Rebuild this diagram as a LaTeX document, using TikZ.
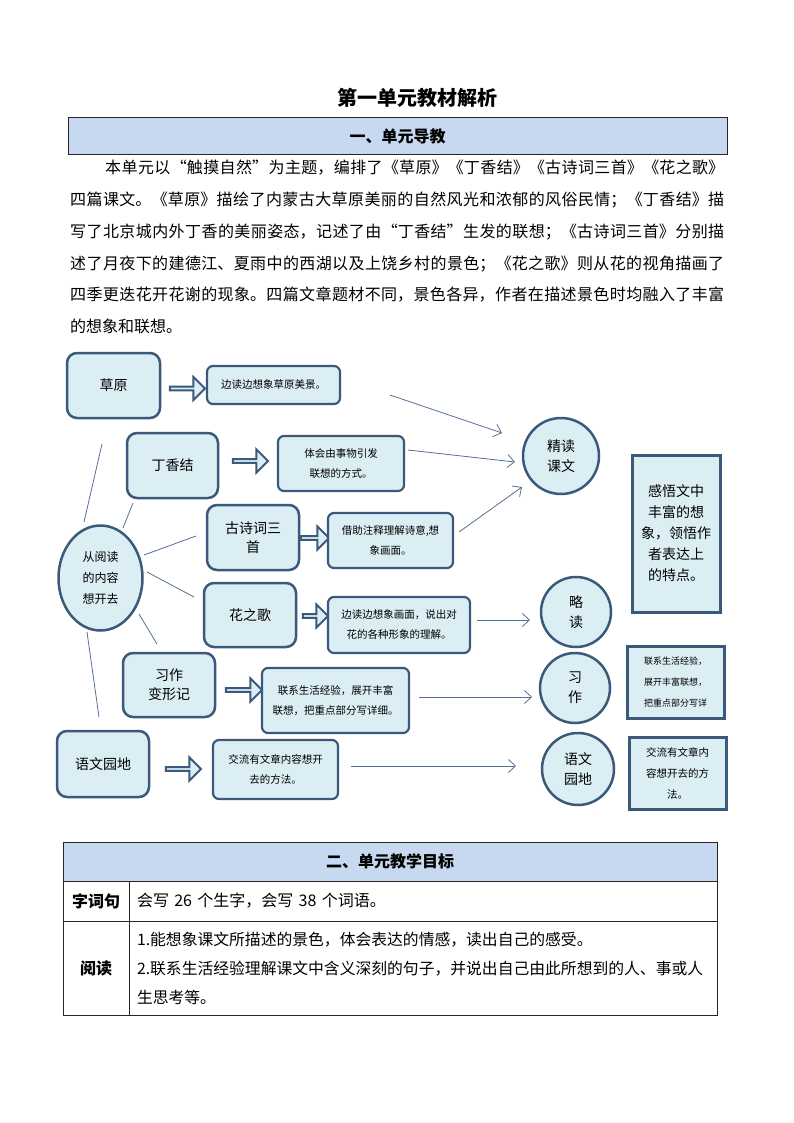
\documentclass[tikz,border=0pt]{standalone}
\usepackage{fontspec}
\setmainfont{Noto Sans CJK SC}
\usetikzlibrary{shapes,arrows.meta}
\XeTeXlinebreaklocale "zh"
\XeTeXlinebreakskip=0pt plus 3pt
\newcommand{\setfs}[2]{\fontsize{#1}{#2}\selectfont}
\definecolor{boxfill}{RGB}{219,238,244}
\definecolor{boxline}{RGB}{59,89,122}
\definecolor{headfill}{RGB}{198,217,241}
\definecolor{linkcol}{RGB}{84,112,150}
\tikzstyle{headbar} = [rectangle, draw=black!85, line width=1pt, fill=headfill, font=\bfseries\setfs{16}{20}]
\tikzstyle{cell} = [rectangle, draw=black!85, line width=0.8pt, inner sep=0pt, font=\setfs{16}{29}]
\tikzstyle{topic} = [rectangle, rounded corners=10pt, draw=boxline, line width=2.5pt, fill=boxfill, align=center, font=\setfs{14}{19}]
\tikzstyle{note} = [rectangle, rounded corners=6pt, draw=boxline, line width=2.2pt, fill=boxfill, align=center, font=\setfs{10.5}{20}]
\tikzstyle{goal} = [circle, draw=boxline, line width=2.5pt, fill=boxfill, align=center, inner sep=0pt, font=\setfs{14}{20}]
\tikzstyle{aim} = [rectangle, draw=boxline, line width=3pt, fill=boxfill, align=center, inner sep=0pt]
\tikzstyle{hollow} = [single arrow, draw=boxline, line width=2pt, fill=boxfill, inner sep=0pt, single arrow head extend=5pt, minimum width=23pt]
\tikzstyle{link} = [draw=linkcol, line width=0.8pt]
\tikzstyle{tedge} = [link, >={Straight Barb[length=7pt,width=13pt]}]

\begin{document}
\begin{tikzpicture}[x=1pt,y=-1pt]
\useasboundingbox (0,0) rectangle (794,1123);

% unit guide =============================
\node[font=\bfseries\setfs{20}{24}] (title) at (417,98) {第一单元教材解析};
\node[headbar, minimum width=659pt, minimum height=37pt] (guide) at (397.5,136.5) {一、单元导教};
\node[anchor=north west, text width=654pt, inner sep=0pt, align=justify, font=\setfs{16}{31.8}] (summary) at (70,160) {%
\parindent=0pt \parfillskip=0pt
\hspace*{35pt}本单元以“触摸自然”为主题，编排了《草原》《丁香结》《古诗词三首》《花之歌》\par
四篇课文。《草原》描绘了内蒙古大草原美丽的自然风光和浓郁的风俗民情；《丁香结》描\par
写了北京城内外丁香的美丽姿态，记述了由“丁香结”生发的联想；《古诗词三首》分别描\par
述了月夜下的建德江、夏雨中的西湖以及上饶乡村的景色；《花之歌》则从花的视角描画了\par
四季更迭花开花谢的现象。四篇文章题材不同，景色各异，作者在描述景色时均融入了丰富\par
{\parfillskip=0pt plus 1fil 的想象和联想。\par}};

% reading map =============================
\node[ellipse, draw=boxline, line width=2.5pt, fill=boxfill, align=center, inner sep=0pt, minimum width=84pt, minimum height=105pt, font=\setfs{12}{21}] (read) at (100.5,578) {从阅读\\的内容\\想开去};

\node[topic, minimum width=93pt, minimum height=65pt] (caoyuan) at (113.5,385.5) {草原};
\node[topic, minimum width=91pt, minimum height=65pt] (dingxiang) at (172.5,465.5) {丁香结};
\node[topic, minimum width=92pt, minimum height=65pt] (gushi) at (253,537.5) {古诗词三\\首};
\node[topic, minimum width=92pt, minimum height=64pt] (huazhi) at (250,615) {花之歌};
\node[topic, minimum width=92pt, minimum height=64pt] (xizuo) at (169,685) {习作\\变形记};
\node[topic, minimum width=92pt, minimum height=66pt] (yuwen) at (103,764) {语文园地};

\node[hollow, minimum height=35pt] (ar-cy) at (186.5,388.5) {};
\node[hollow, minimum height=35pt] (ar-dx) at (249.5,461) {};
\node[hollow, minimum height=28pt] (ar-gs) at (314,538) {};
\node[hollow, minimum height=25pt] (ar-hz) at (314.5,616) {};
\node[hollow, minimum height=36pt] (ar-xz) at (243,690) {};
\node[hollow, minimum height=35pt] (ar-yw) at (182.5,769) {};

\node[note, minimum width=133pt, minimum height=38pt] (tip-cy) at (273.5,385) {边读边想象草原美景。};
\node[note, minimum width=126pt, minimum height=55pt] (tip-dx) at (341,463.5) {体会由事物引发\\联想的方式。};
\node[note, minimum width=125pt, minimum height=55pt] (tip-gs) at (390.5,540.5) {借助注释理解诗意,想\\象画面。};
\node[note, minimum width=142pt, minimum height=56pt] (tip-hz) at (399,625) {边读边想象画面，说出对\\花的各种形象的理解。};
\node[note, minimum width=147pt, minimum height=65pt] (tip-xz) at (335.5,700.5) {联系生活经验，展开丰富\\联想，把重点部分写详细。};
\node[note, minimum width=125pt, minimum height=59pt] (tip-yw) at (275.5,769.5) {交流有文章内容想开\\去的方法。};

\node[goal, minimum size=76pt] (jingdu) at (561,456) {精读\\课文};
\node[goal, minimum size=70pt] (ludu) at (576,612) {略\\读};
\node[goal, minimum size=70pt] (xizuo-g) at (575,688) {习\\作};
\node[goal, minimum size=72pt] (yuwen-g) at (578,769) {语文\\园地};

\node[aim, minimum width=88pt, minimum height=157pt, font=\setfs{14}{21}] (ganwu) at (676,533.5) {感悟文中\\丰富的想\\象，领悟作\\者表达上\\的特点。};
\node[aim, minimum width=97pt, minimum height=72pt, font=\setfs{9}{20.7}] (aim-xz) at (675.5,682) {联系生活经验，\\展开丰富联想，\\把重点部分写详};
\node[aim, minimum width=97pt, minimum height=72pt, font=\setfs{10.5}{21}] (aim-yw) at (677.5,773) {交流有文章内\\容想开去的方\\法。};

% free ends of the connectors
\coordinate (rd-cy) at (84,522);   \coordinate (cy-rd) at (102,444);
\coordinate (rd-dx) at (123,528);  \coordinate (dx-rd) at (133,503);
\coordinate (rd-gs) at (144,555);  \coordinate (gs-rd) at (196,536);
\coordinate (rd-hz) at (147,572);  \coordinate (hz-rd) at (194,597);
\coordinate (rd-xz) at (139,614);  \coordinate (xz-rd) at (157,644);
\coordinate (rd-yw) at (87,632);   \coordinate (yw-rd) at (99,717);
\coordinate (cy-jd) at (390,395);  \coordinate (jd-cy) at (502,433);
\coordinate (dx-jd) at (408,450);  \coordinate (jd-dx) at (515,462);
\coordinate (gs-jd) at (459,532);  \coordinate (jd-gs) at (522,487);
\coordinate (hz-ld) at (477,620);  \coordinate (ld-hz) at (530,620);
\coordinate (xz-xg) at (419,697);  \coordinate (xg-xz) at (532,697);
\coordinate (yw-yg) at (351,766);  \coordinate (yg-yw) at (516,766);

% edges
\path[link] (rd-cy) edge (cy-rd);
\path[link] (rd-dx) edge (dx-rd);
\path[link] (rd-gs) edge (gs-rd);
\path[link] (rd-hz) edge (hz-rd);
\path[link] (rd-xz) edge (xz-rd);
\path[link] (rd-yw) edge (yw-rd);
\path[tedge] (cy-jd) edge[->] (jd-cy);
\path[tedge] (dx-jd) edge[->] (jd-dx);
\path[tedge] (gs-jd) edge[->] (jd-gs);
\path[tedge] (hz-ld) edge[->] (ld-hz);
\path[tedge] (xz-xg) edge[->] (xg-xz);
\path[tedge] (yw-yg) edge[->] (yg-yw);

% unit aims table =============================
\node[headbar, line width=0.8pt, minimum width=654pt, minimum height=39pt] (aims) at (390,861.5) {二、单元教学目标};
\node[cell, minimum width=66pt, minimum height=40pt, font=\bfseries\setfs{16}{20}] (words) at (96,901) {字词句};
\node[cell, minimum width=588pt, minimum height=40pt, inner xsep=8pt, text width=572pt, align=left] (words-t) at (423,901) {会写 26 个生字，会写 38 个词语。};
\node[cell, minimum width=66pt, minimum height=94pt, font=\bfseries\setfs{16}{20}] (reading) at (96,968) {阅读};
\node[cell, minimum width=588pt, minimum height=94pt, inner xsep=8pt, text width=572pt, align=left, font=\setfs{15.8}{29}] (reading-t) at (423,968) {1.能想象课文所描述的景色，体会表达的情感，读出自己的感受。\\2.联系生活经验理解课文中含义深刻的句子，并说出自己由此所想到的人、事或人\\生思考等。};

\end{tikzpicture}
\end{document}
